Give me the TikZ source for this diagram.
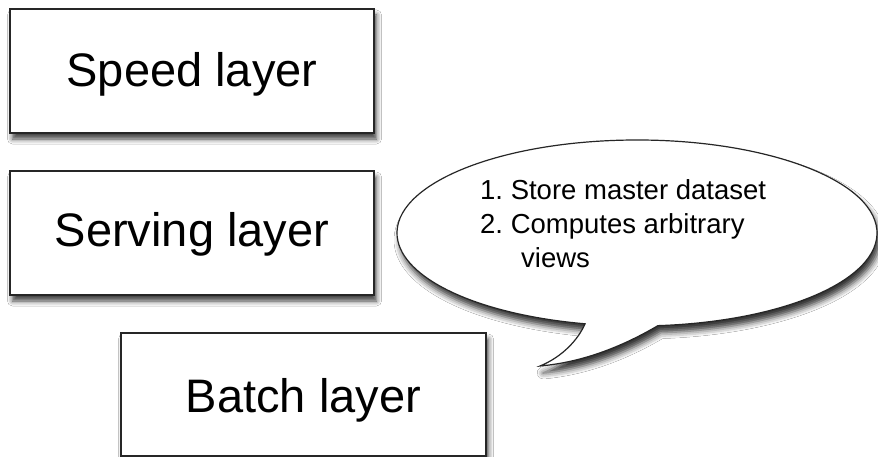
\documentclass[tikz,border=0pt]{standalone}
\usepackage{fontspec}
\setmainfont{Liberation Sans}
\usetikzlibrary{shadows.blur}
\frenchspacing
\begin{document}
\begin{tikzpicture}[x=1pt,y=-1pt,
  layerbox/.style={draw=black!85, line width=1.3pt, fill=white,
    blur shadow={shadow xshift=2.5pt, shadow yshift=-6pt, shadow blur radius=5pt, shadow opacity=75}},
  layerlabel/.style={anchor=base, font=\fontsize{47}{52}\selectfont, inner sep=0pt},
  bubbletext/.style={anchor=base west, font=\fontsize{27.5}{33}\selectfont, inner sep=0pt},
  bubble/.style={draw=black!85, line width=1.2pt, fill=white,
    blur shadow={shadow xshift=3pt, shadow yshift=-7pt, shadow blur radius=6pt, shadow opacity=80}}]
\useasboundingbox (0,0) rectangle (878,457);
\fill[white] (0,0) rectangle (878,457);

% three layer boxes
\draw[layerbox] (10,9) rectangle (374,133);
\node[layerlabel] (speed) at (192,87) {Speed layer};
\draw[layerbox] (10,171) rectangle (374,295);
\node[layerlabel] (serving) at (192,247) {Serving layer};
\draw[layerbox] (121,333) rectangle (486,456);
\node[layerlabel] (batch) at (303.5,412) {Batch layer};

% speech bubble with a tail pointing down-left
\coordinate (bc) at (637,233);
\coordinate (tailR) at ([shift={(637,233)}]85:240 and 93);
\coordinate (tailL) at ([shift={(637,233)}]102.5:240 and 93);
\coordinate (tip) at (540,366);
\draw[bubble] (tailR) arc[start angle=85, end angle=-257.5, x radius=240, y radius=93]
  .. controls (578,340) and (562,357) .. (tip)
  .. controls (585,362) and (625,345) .. (tailR) -- cycle;

\node[bubbletext] (item1) at (480,200) {1. Store master dataset};
\node[bubbletext] (item2) at (480,233.5) {2. Computes arbitrary};
\node[bubbletext] (item3) at (521,267) {views};
\end{tikzpicture}
\end{document}
